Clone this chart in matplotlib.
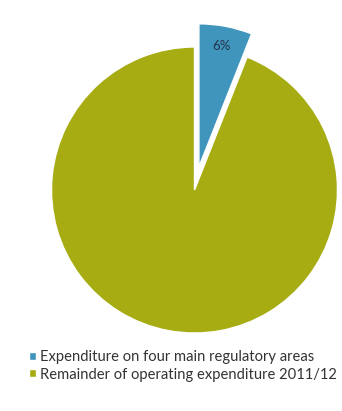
import matplotlib
matplotlib.use("Agg")
import matplotlib.pyplot as plt

labels = ["Expenditure on four main regulatory areas",
          "Remainder of operating expenditure 2011/12"]
values = [6, 94]
colors = ["#3f95bc", "#a6ac12"]
pct_text = "6%"

W, H = 342, 411
fig = plt.figure(figsize=(W / 100, H / 100), dpi=100)
fig.patch.set_facecolor("white")

cx, cy, r = 194.5, 190, 143
half = 170
ax = fig.add_axes([(cx - half) / W, (H - cy - half) / H, 2 * half / W, 2 * half / H])

wedges, _ = ax.pie(values, colors=colors, startangle=90, counterclock=False,
                   explode=[0.165, 0], radius=1,
                   wedgeprops=dict(edgecolor="white", linewidth=1.0))
ax.set_xlim(-half / r, half / r)
ax.set_ylim(-half / r, half / r)
ax.set_aspect("equal")
ax.axis("off")

ax.text(0.19, 1.01, pct_text, ha="center", va="center", fontsize=9.5,
        color="#24324a", family="Lato")

leg = fig.legend(wedges, labels, loc="upper left", bbox_to_anchor=(29 / W, 1 - 350 / H),
                 frameon=False, handlelength=0.45, handleheight=0.45, handletextpad=0.3,
                 labelspacing=0.25, borderaxespad=0, borderpad=0,
                 prop=dict(family="Lato", size=10.6))
for t in leg.get_texts():
    t.set_color("#333333")

fig.savefig("out.png", dpi=100, facecolor="white")
